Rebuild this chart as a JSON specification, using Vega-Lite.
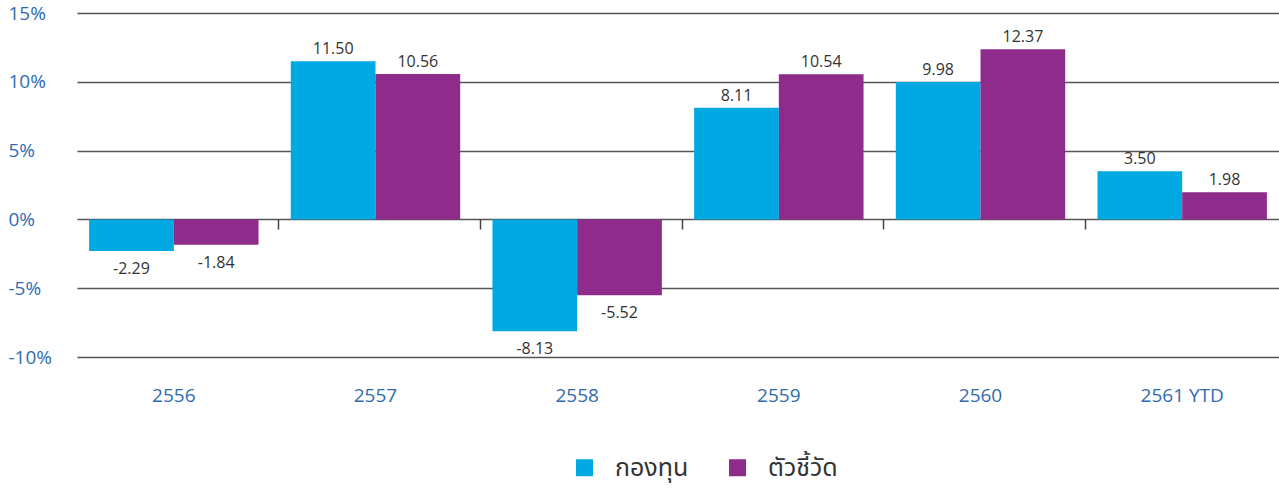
{
  "$schema": "https://vega.github.io/schema/vega-lite/v6.json",
  "width": 1202,
  "height": 344,
  "autosize": {"type": "none"},
  "padding": {"left": 77, "top": 13, "right": 0, "bottom": 137},
  "background": "white",
  "config": {"view": {"stroke": null}},
  "data": {
    "values": [
      {"year": "2556", "series": "กองทุน", "value": -2.29},
      {"year": "2556", "series": "ตัวชี้วัด", "value": -1.84},
      {"year": "2557", "series": "กองทุน", "value": 11.50},
      {"year": "2557", "series": "ตัวชี้วัด", "value": 10.56},
      {"year": "2558", "series": "กองทุน", "value": -8.13},
      {"year": "2558", "series": "ตัวชี้วัด", "value": -5.52},
      {"year": "2559", "series": "กองทุน", "value": 8.11},
      {"year": "2559", "series": "ตัวชี้วัด", "value": 10.54},
      {"year": "2560", "series": "กองทุน", "value": 9.98},
      {"year": "2560", "series": "ตัวชี้วัด", "value": 12.37},
      {"year": "2561 YTD", "series": "กองทุน", "value": 3.50},
      {"year": "2561 YTD", "series": "ตัวชี้วัด", "value": 1.98}
    ]
  },
  "transform": [
    {"calculate": "replace(format(datum.value, '.2f'), '\u2212', '-')", "as": "label"}
  ],
  "resolve": {"axis": {"x": "independent"}},
  "layer": [
    {
      "mark": {"type": "bar"},
      "encoding": {
        "x": {
          "field": "year", "type": "nominal", "sort": null,
          "scale": {"paddingInner": 0.16, "paddingOuter": 0.06},
          "axis": {
            "orient": "bottom", "title": null, "domain": false, "ticks": false, "grid": false,
            "labelAngle": 0, "labelPadding": 29, "labelFont": "Open Sans", "labelFontSize": 19,
            "labelColor": "#2f6cae"
          }
        },
        "xOffset": {"field": "series", "type": "nominal", "sort": ["กองทุน", "ตัวชี้วัด"]},
        "y": {
          "field": "value", "type": "quantitative",
          "scale": {"domain": [-10, 15], "nice": false, "zero": false},
          "axis": {
            "title": null, "values": [-10, -5, 0, 5, 10, 15], "grid": true, "gridColor": "#555555",
            "gridWidth": 1.5, "domain": false, "ticks": false, "labelAlign": "left", "labelPadding": 69,
            "labelBaseline": "middle", "labelExpr": "datum.value + '%'", "labelFont": "Open Sans",
            "labelFontSize": 19, "labelColor": "#2f6cae"
          }
        },
        "color": {
          "field": "series", "type": "nominal",
          "scale": {"domain": ["กองทุน", "ตัวชี้วัด"], "range": ["#00a9e2", "#8f2c8b"]},
          "legend": {
            "orient": "none", "legendX": 495, "legendY": 442, "direction": "horizontal", "title": null,
            "symbolType": "square", "symbolSize": 289, "symbolStrokeWidth": 0, "symbolOpacity": 1,
            "labelFont": "Tahoma, 'Noto Sans Thai', 'Noto Sans', sans-serif", "labelFontSize": 25,
            "labelColor": "#333333", "labelOffset": 18, "columnPadding": 36, "labelBaseline": "middle"
          }
        }
      }
    },
    {
      "transform": [{"filter": "datum.value >= 0"}],
      "mark": {"type": "text", "baseline": "bottom", "dy": -4, "font": "Open Sans", "fontSize": 16, "color": "#333333"},
      "encoding": {
        "x": {
          "field": "year", "type": "nominal", "sort": null,
          "axis": {
            "orient": "bottom", "offset": -138, "title": null, "labels": false, "domain": false, "grid": false,
            "ticks": true, "tickSize": 10, "tickColor": "#444444", "tickWidth": 1.5, "bandPosition": -0.07,
            "tickOpacity": {"condition": {"test": "datum.value == '2556'", "value": 0}, "value": 1}
          }
        },
        "xOffset": {"field": "series", "type": "nominal", "sort": ["กองทุน", "ตัวชี้วัด"]},
        "y": {"field": "value", "type": "quantitative"},
        "text": {"field": "label", "type": "nominal"}
      }
    },
    {
      "transform": [{"filter": "datum.value < 0"}],
      "mark": {"type": "text", "baseline": "top", "dy": 10, "font": "Open Sans", "fontSize": 16, "color": "#333333"},
      "encoding": {
        "x": {"field": "year", "type": "nominal", "sort": null, "axis": null},
        "xOffset": {"field": "series", "type": "nominal", "sort": ["กองทุน", "ตัวชี้วัด"]},
        "y": {"field": "value", "type": "quantitative"},
        "text": {"field": "label", "type": "nominal"}
      }
    }
  ]
}
